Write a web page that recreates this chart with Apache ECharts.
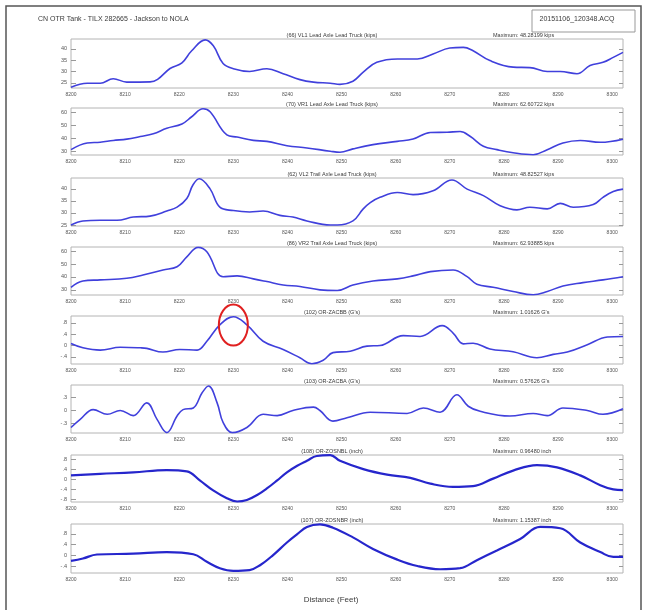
<!DOCTYPE html>
<html>
<head>
<meta charset="utf-8">
<script src="https://cdn.jsdelivr.net/npm/echarts@6/dist/echarts.min.js"></script>
<style>
  html, body { margin: 0; padding: 0; background: #fff; }
  #chart { width: 647px; height: 610px; }
</style>
</head>
<body>
<div id="chart"></div>
<script>
// Distance ticks shared by every panel (feet)
const distTicks = [8200, 8210, 8220, 8230, 8240, 8250, 8260, 8270, 8280, 8290, 8300];

// (66) VL1 Lead Axle Lead Truck (kips)
const vl1Dist = [8200, 8203, 8205.4, 8207.8, 8210.3, 8214.6, 8216, 8218.3, 8220.5, 8222.3, 8224.8, 8226.3, 8228.1, 8230, 8233, 8236.2, 8239.2, 8242.3, 8244.8, 8247.9, 8249.7, 8252.1, 8254, 8256.5, 8260.3, 8264, 8266.9, 8270, 8272.5, 8274.3, 8277.4, 8281.7, 8284.8, 8288, 8290.4, 8293.5, 8295.9, 8298.3, 8300.2, 8302];
const vl1Kips = [23.0, 24.8, 24.8, 26.8, 25.3, 25.4, 26.5, 31.3, 33.8, 39.1, 43.9, 41.3, 33.5, 31.2, 30.0, 31.2, 29.0, 26.4, 25.3, 24.8, 24.3, 25.7, 29.7, 34.0, 35.5, 35.5, 37.7, 40.3, 40.6, 39.1, 34.8, 31.9, 31.7, 30.0, 30.0, 29.0, 32.6, 34.0, 36.2, 38.4];

// (70) VR1 Lead Axle Lead Truck (kips)
const vr1Dist = [8200, 8203, 8205.4, 8207.8, 8210.3, 8212.8, 8215.2, 8217.7, 8220.5, 8222.3, 8224.4, 8225.7, 8228.8, 8230.7, 8233.7, 8236.2, 8239.9, 8243.6, 8247.9, 8249.7, 8252.1, 8255.8, 8260.3, 8263.2, 8266.4, 8269.5, 8271.9, 8273.8, 8276.2, 8278.7, 8281.7, 8285.4, 8288, 8290.9, 8294.1, 8297.8, 8302];
const vr1Kips = [31.4, 36.5, 37.0, 38.4, 39.4, 41.4, 43.5, 47.7, 51.0, 56.5, 62.6, 60.3, 42.7, 41.0, 38.5, 37.7, 34.4, 32.7, 30.2, 29.4, 32.0, 35.2, 37.7, 39.5, 44.5, 44.7, 45.2, 41.4, 34.0, 31.4, 29.0, 27.5, 31.4, 36.5, 38.4, 37.0, 39.4];

// (62) VL2 Trail Axle Lead Truck (kips)
const vl2Dist = [8200, 8202.2, 8205.4, 8208.5, 8211.5, 8214.6, 8217.7, 8219.6, 8221.4, 8222.5, 8223.7, 8225.7, 8227.5, 8230, 8233, 8235.5, 8238.6, 8241, 8243.6, 8247.9, 8249.2, 8252.1, 8254, 8255.3, 8257.1, 8260.3, 8263.2, 8266.9, 8270.4, 8273.2, 8276.2, 8279.3, 8282.4, 8284.8, 8288, 8290.4, 8292.8, 8296.5, 8298.3, 8300.2, 8302];
const vl2Kips = [25.0, 26.7, 27.0, 27.0, 28.3, 28.7, 30.8, 32.4, 36.0, 41.5, 44.2, 40.0, 32.4, 31.0, 30.4, 30.8, 29.0, 28.3, 26.7, 25.0, 25.0, 26.7, 31.7, 34.3, 36.5, 38.5, 37.6, 39.2, 43.7, 39.9, 37.2, 33.0, 31.3, 32.4, 31.7, 34.0, 32.4, 33.5, 36.5, 38.9, 39.9];

// (86) VR2 Trail Axle Lead Truck (kips)
const vr2Dist = [8200, 8202.2, 8205.4, 8210.3, 8213.3, 8217, 8219.6, 8221.4, 8223.5, 8225.1, 8228.1, 8230.7, 8233.7, 8236.2, 8239.2, 8242.3, 8246, 8249.2, 8252.1, 8255.8, 8260.3, 8263.2, 8266.4, 8270.6, 8273.2, 8275, 8278, 8281.7, 8285.4, 8288, 8290.9, 8294.6, 8298.3, 8302];
const vr2Kips = [32.0, 36.9, 37.7, 39.0, 41.5, 45.4, 47.9, 55.6, 62.9, 59.5, 40.2, 40.8, 38.5, 36.4, 33.8, 32.6, 30.0, 29.5, 33.8, 36.9, 38.5, 40.8, 44.1, 45.4, 40.2, 34.3, 32.0, 28.7, 26.2, 28.7, 33.0, 35.6, 37.7, 40.2];

// (102) OR-ZACBB (G's)
const zacbbDist = [8200, 8202.2, 8205.4, 8209.1, 8212.8, 8214, 8217, 8220.1, 8223.3, 8225.1, 8227.5, 8230, 8232.5, 8235.5, 8239.2, 8242.3, 8244.5, 8246.6, 8248.4, 8251.6, 8254.7, 8257.1, 8261.4, 8264.5, 8268.6, 8270.6, 8272.5, 8274.3, 8277.4, 8281.7, 8286.1, 8289.1, 8291.7, 8295.4, 8299.1, 8302];
const zacbbG = [0.07, -0.08, -0.16, -0.06, -0.08, -0.10, -0.23, -0.14, -0.16, 0.15, 0.73, 1.016, 0.73, 0.15, -0.14, -0.43, -0.64, -0.52, -0.25, -0.20, -0.02, 0.0, 0.35, 0.32, 0.70, 0.44, 0.06, 0.08, -0.12, -0.22, -0.43, -0.31, -0.23, 0.03, 0.30, 0.32];

// (103) OR-ZACBA (G's)
const zacbaDist = [8200, 8201.7, 8204.1, 8206.7, 8209.1, 8211.5, 8214, 8215.9, 8217.7, 8219.6, 8220.7, 8222.6, 8224.2, 8225.4, 8227, 8228.1, 8229.8, 8232.5, 8235.5, 8238.1, 8241, 8244.8, 8246, 8248.4, 8251, 8255.3, 8262.1, 8265.1, 8268.2, 8271.3, 8273.4, 8275.6, 8281.1, 8285.4, 8288, 8290.9, 8295.4, 8298.3, 8302];
const zacbaG = [-0.40, -0.21, 0.02, -0.09, 0.0, -0.12, 0.18, -0.21, -0.52, -0.13, 0.02, 0.06, 0.41, 0.576, 0.18, -0.28, -0.52, -0.40, -0.09, -0.12, 0.0, 0.08, 0.0, -0.25, -0.17, -0.04, -0.07, 0.06, -0.04, 0.37, 0.10, -0.02, -0.13, -0.07, -0.12, 0.06, 0.0, -0.09, 0.04];

// (108) OR-ZOSNBL (inch)
const zosnblDist = [8200, 8205.4, 8211.5, 8217.7, 8221.4, 8223.8, 8226.2, 8228.8, 8230.7, 8232.5, 8234.4, 8236.2, 8238.1, 8239.9, 8241.8, 8243.6, 8245.4, 8247.9, 8249.7, 8254, 8258.4, 8262.7, 8266.4, 8270.6, 8274.3, 8278, 8281.7, 8286.1, 8289.8, 8294.1, 8297.8, 8300.2, 8302];
const zosnblInch = [0.16, 0.22, 0.28, 0.37, 0.32, -0.04, -0.43, -0.75, -0.88, -0.82, -0.62, -0.36, -0.04, 0.28, 0.54, 0.74, 0.93, 0.965, 0.74, 0.41, 0.19, 0.06, -0.17, -0.30, -0.27, 0.03, 0.35, 0.57, 0.48, 0.16, -0.23, -0.40, -0.43];

// (107) OR-ZOSNBR (inch)
const zosnbrDist = [8200, 8202.2, 8204.8, 8211.5, 8217.7, 8222.6, 8225.1, 8227.5, 8230, 8233, 8235, 8237.3, 8239.9, 8241.8, 8243.6, 8246, 8248.4, 8252.1, 8255.8, 8260.3, 8264, 8268.2, 8271.9, 8275, 8278.7, 8283, 8286.7, 8290.4, 8294.1, 8297.8, 8300.2, 8302];
const zosnbrInch = [-0.21, -0.12, 0.03, 0.06, 0.12, 0.04, -0.24, -0.48, -0.58, -0.55, -0.36, 0.0, 0.48, 0.79, 1.06, 1.154, 1.03, 0.67, 0.24, -0.16, -0.40, -0.52, -0.48, -0.18, 0.18, 0.61, 1.06, 1.01, 0.48, 0.12, -0.06, -0.06];

// Panel titles, maxima and value tick labels
const panelTitles = [
  '(66) VL1 Lead Axle Lead Truck (kips)',
  '(70) VR1 Lead Axle Lead Truck (kips)',
  '(62) VL2 Trail Axle Lead Truck (kips)',
  '(86) VR2 Trail Axle Lead Truck (kips)',
  "(102) OR-ZACBB (G's)",
  "(103) OR-ZACBA (G's)",
  '(108) OR-ZOSNBL (inch)',
  '(107) OR-ZOSNBR (inch)'
];
const panelMaxima = [
  'Maximum: 48.28199 kips',
  'Maximum: 62.60722 kips',
  'Maximum: 48.82527 kips',
  'Maximum: 62.93885 kips',
  "Maximum: 1.01626 G's",
  "Maximum: 0.57626 G's",
  'Maximum: 0.96480 inch',
  'Maximum: 1.15387 inch'
];
const valueTicks = [
  [25, 30, 35, 40],
  [30, 40, 50, 60],
  [25, 30, 35, 40],
  [30, 40, 50, 60],
  [-0.4, 0, 0.4, 0.8],
  [-0.3, 0, 0.3],
  [-0.8, -0.4, 0, 0.4, 0.8],
  [-0.4, 0, 0.4, 0.8]
];

const seriesDist = [vl1Dist, vr1Dist, vl2Dist, vr2Dist, zacbbDist, zacbaDist, zosnblDist, zosnbrDist];
const seriesVals = [vl1Kips, vr1Kips, vl2Kips, vr2Kips, zacbbG, zacbaG, zosnblInch, zosnbrInch];

// Layout of the eight stacked plots
const gridTops = [39, 108, 178, 247, 316, 385, 455, 524];
const gridHeights = [49, 47, 48, 48, 48, 48, 47, 49];
const yRanges = [[22.7, 44.3], [27.3, 63.2], [24.6, 44.5], [26.0, 63.2], [-0.65, 1.04], [-0.53, 0.6], [-0.9, 0.97], [-0.66, 1.17]];

const FONT = 'Liberation Sans, Arial, sans-serif';
const TEXT = '#3a3a3a';

function shortNum(v) {
  return String(v).replace(/^0\./, '.').replace(/^-0\./, '-.');
}

const grids = [], xAxes = [], yAxes = [], series = [], texts = [];
for (let i = 0; i < 8; i++) {
  grids.push({
    left: 71, right: 24, top: gridTops[i], height: gridHeights[i],
    show: true, borderColor: '#b4b4b4', borderWidth: 1, backgroundColor: '#fff'
  });
  xAxes.push({
    type: 'value', gridIndex: i, min: 8200, max: 8302,
    axisLine: { show: false }, axisTick: { show: false }, splitLine: { show: false },
    axisLabel: { customValues: distTicks, fontSize: 5, color: '#555', margin: 4, fontFamily: FONT, formatter: v => String(v) }
  });
}
for (let i = 0; i < 8; i++) {
  yAxes.push({
    type: 'value', gridIndex: i, position: 'left', min: yRanges[i][0], max: yRanges[i][1],
    axisLine: { show: false }, splitLine: { show: false },
    axisTick: { show: true, inside: true, length: 5, customValues: valueTicks[i], lineStyle: { color: '#999' } },
    axisLabel: { customValues: valueTicks[i], fontSize: 5.5, color: '#555', margin: 4, fontFamily: FONT, formatter: shortNum }
  });
}
for (let i = 0; i < 8; i++) {
  yAxes.push({
    type: 'value', gridIndex: i, position: 'right', min: yRanges[i][0], max: yRanges[i][1],
    axisLine: { show: false }, splitLine: { show: false },
    axisTick: { show: true, inside: true, length: 4, customValues: valueTicks[i], lineStyle: { color: '#999' } },
    axisLabel: { show: false }
  });
}
for (let i = 0; i < 8; i++) {
  const noisy = i >= 6;
  series.push({
    type: 'line', xAxisIndex: i, yAxisIndex: i,
    data: seriesDist[i].map((d, k) => [d, seriesVals[i][k]]),
    smooth: 0.4, showSymbol: false, silent: true,
    lineStyle: { color: noisy ? '#2626cc' : '#4040dc', width: noisy ? 2.2 : 1.6 }
  });
  texts.push({
    type: 'text', x: 332, y: gridTops[i] - 1,
    style: { text: panelTitles[i], fontSize: 5.5, fill: TEXT, fontFamily: FONT, align: 'center', verticalAlign: 'bottom' }
  });
  texts.push({
    type: 'text', x: 493, y: gridTops[i] - 1,
    style: { text: panelMaxima[i], fontSize: 5.5, fill: TEXT, fontFamily: FONT, align: 'left', verticalAlign: 'bottom' }
  });
}

const chart = echarts.init(document.getElementById('chart'), null, { renderer: 'canvas' });
chart.setOption({
  animation: false,
  backgroundColor: '#fff',
  grid: grids,
  xAxis: xAxes,
  yAxis: yAxes,
  series: series,
  graphic: [
    { type: 'rect', shape: { x: 6, y: 6, width: 635, height: 640 }, style: { fill: 'none', stroke: '#555', lineWidth: 1.5 }, z: 10 },
    { type: 'text', x: 38, y: 19, style: { text: 'CN OTR Tank - TILX 282665 - Jackson to NOLA', fontSize: 7, fill: TEXT, fontFamily: FONT, verticalAlign: 'middle' } },
    { type: 'rect', shape: { x: 532, y: 10, width: 103, height: 22 }, style: { fill: '#fff', stroke: '#999', lineWidth: 1 } },
    { type: 'text', x: 577, y: 19, style: { text: '20151106_120348.ACQ', fontSize: 7, fill: TEXT, fontFamily: FONT, align: 'center', verticalAlign: 'middle' } },
    { type: 'text', x: 331, y: 600, style: { text: 'Distance (Feet)', fontSize: 8, fill: TEXT, fontFamily: FONT, align: 'center', verticalAlign: 'middle' } }
  ].concat(texts)
});

// Red ring marking the ZACBB peak
const ringCenter = chart.convertToPixel({ gridIndex: 4 }, [8230, 0.72]);
chart.setOption({
  graphic: [{
    type: 'ellipse', id: 'peakRing', z: 20,
    shape: { cx: ringCenter[0], cy: ringCenter[1], rx: 14.5, ry: 20.5 },
    style: { fill: 'none', stroke: '#e02020', lineWidth: 2 }
  }]
});
</script>
</body>
</html>
